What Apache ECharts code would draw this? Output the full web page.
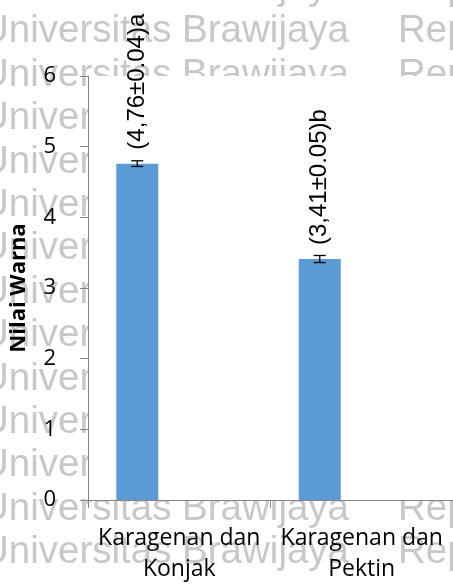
<!DOCTYPE html>
<html>
<head>
<meta charset="utf-8">
<script src="https://cdn.jsdelivr.net/npm/echarts@6/dist/echarts.min.js"></script>
<style>
  html, body { margin: 0; padding: 0; background: #ffffff; }
  #chart { width: 453px; height: 585px; }
</style>
</head>
<body>
<div id="chart"></div>
<script>
// Treatment categories and measured colour scores
const categories = ['Karagenan dan\nKonjak', 'Karagenan dan\nPektin'];
const nilaiWarna = [4.76, 3.41];
const simpangan = [0.04, 0.05];
const notasi = ['a', 'b'];
const yTicks = [0, 1, 2, 3, 4, 5, 6];

const BAR_WIDTH = 42;
const AXIS_GREY = '#868686';
const AXIS_FONT = '"Open Sans", "Noto Sans", sans-serif';

// Background repository watermark, one row every ~43 px
const watermarkRows = [];
for (let k = 0; k < 14; k++) {
  const y = 43.3 + 43.4 * (k - 1);
  const style = { fill: '#c8c8c8', font: '38.5px "Liberation Sans", Arial, sans-serif', verticalAlign: 'bottom' };
  watermarkRows.push({ type: 'text', z: -10, x: -19, y: y + 8, style: Object.assign({ text: 'Universitas Brawijaya' }, style) });
  watermarkRows.push({ type: 'text', z: -10, x: 398, y: y + 8, style: Object.assign({ text: 'Repository' }, style) });
}

// "(4,76±0.04)a": mean with decimal comma, deviation, significance letter
const fmt = (v, i) => '(' + v.toFixed(2).replace('.', ',') + '\u00b1' + simpangan[i].toFixed(2) + ')' + notasi[i];

const chart = echarts.init(document.getElementById('chart'), null, { renderer: 'canvas' });
chart.setOption({
  animation: false,
  backgroundColor: '#ffffff',
  graphic: watermarkRows,
  grid: {
    left: 82, top: 76, width: 387, height: 429,
    show: true, backgroundColor: '#ffffff', borderWidth: 0
  },
  xAxis: {
    type: 'category',
    data: categories,
    axisLine: { lineStyle: { color: AXIS_GREY, width: 1 } },
    axisTick: { show: true, length: 8, lineStyle: { color: AXIS_GREY } },
    axisLabel: {
      color: '#000', fontFamily: AXIS_FONT, fontSize: 23, lineHeight: 31,
      margin: 23, interval: 0
    },
    splitLine: { show: false }
  },
  yAxis: {
    type: 'value',
    min: yTicks[0], max: yTicks[yTicks.length - 1], interval: 1,
    name: 'Nilai Warna',
    nameLocation: 'middle', nameRotate: 90, nameGap: 58,
    nameTextStyle: { color: '#000', fontFamily: AXIS_FONT, fontWeight: 'bold', fontSize: 22 },
    axisLine: { show: true, lineStyle: { color: AXIS_GREY, width: 1 } },
    axisTick: { show: true, length: 8, lineStyle: { color: AXIS_GREY } },
    axisLabel: { color: '#000', fontFamily: AXIS_FONT, fontSize: 22, margin: 32 },
    splitLine: { show: false }
  },
  series: [
    {
      name: 'Nilai Warna',
      type: 'bar',
      data: nilaiWarna,
      barWidth: BAR_WIDTH,
      barGap: '0%',
      itemStyle: { color: '#5b9bd5' },
      label: {
        show: true, position: 'top', distance: 14, rotate: 90,
        align: 'left', verticalAlign: 'middle',
        color: '#000', fontFamily: '"Liberation Sans", Arial, sans-serif', fontSize: 24,
        formatter: p => fmt(p.value, p.dataIndex)
      }
    },
    // two empty slots keep the filled bar in the left third of each category
    { name: 'Seri 2', type: 'bar', data: categories.map(() => '-'), barWidth: BAR_WIDTH, barGap: '0%' },
    { name: 'Seri 3', type: 'bar', data: categories.map(() => '-'), barWidth: BAR_WIDTH, barGap: '0%' },
    {
      name: 'Galat',
      type: 'custom',
      z: 5,
      data: nilaiWarna.map((v, i) => [i, v - simpangan[i], v + simpangan[i]]),
      encode: { x: 0, y: [1, 2] },
      renderItem: (params, api) => {
        const i = api.value(0);
        const lo = api.coord([i, api.value(1)]);
        const hi = api.coord([i, api.value(2)]);
        const x = lo[0] - BAR_WIDTH;
        const half = 6;
        const st = { stroke: '#000', lineWidth: 1.3 };
        return {
          type: 'group',
          children: [
            { type: 'line', shape: { x1: x, y1: hi[1], x2: x, y2: lo[1] }, style: st },
            { type: 'line', shape: { x1: x - half, y1: hi[1], x2: x + half, y2: hi[1] }, style: st },
            { type: 'line', shape: { x1: x - half, y1: lo[1], x2: x + half, y2: lo[1] }, style: st }
          ]
        };
      }
    }
  ]
});
</script>
</body>
</html>
